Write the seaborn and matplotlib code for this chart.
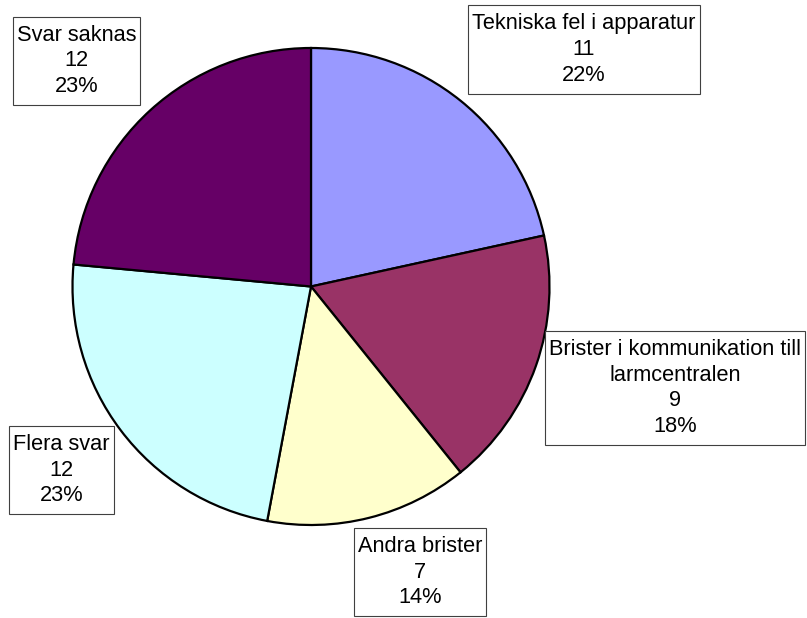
import matplotlib
matplotlib.use("Agg")
import matplotlib.pyplot as plt
from matplotlib.patches import Rectangle
import seaborn as sns

# data
categories = ["Tekniska fel i apparatur", "Brister i kommunikation till\nlarmcentralen",
              "Andra brister", "Flera svar", "Svar saknas"]
counts = [11, 9, 7, 12, 12]
percent_labels = ["22%", "18%", "14%", "23%", "23%"]
colors = ["#9999FF", "#993366", "#FFFFCC", "#CCFFFF", "#660066"]

# label box centres in pixel coordinates (y measured from top)
label_pos = [(584, 49.5), (675, 388), (420, 572), (61.5, 470), (76.5, 61)]

sns.set_style("white")
plt.rcParams["font.family"] = ["Liberation Sans", "DejaVu Sans"]

W, H = 807, 618
fig = plt.figure(figsize=(W / 100, H / 100), dpi=100)
ax = fig.add_axes([0, 0, 1, 1])

ax.pie(
    counts,
    colors=colors,
    startangle=90,
    counterclock=False,
    center=(311, H - 286.5),
    radius=238.5,
    wedgeprops={"edgecolor": "black", "linewidth": 1.6},
    frame=True,
)
ax.set_xlim(0, W)
ax.set_ylim(0, H)
ax.set_aspect("equal", adjustable="box")
ax.axis("off")

texts = []
for name, n, pct, (x, y) in zip(categories, counts, percent_labels, label_pos):
    t = ax.text(
        x, H - y, f"{name}\n{n}\n{pct}",
        ha="center", va="center", fontsize=15.7, linespacing=1.3,
        color="black", zorder=5, clip_on=False,
    )
    texts.append(t)

# framed boxes round the labels, a little more padding above/below than at the sides
fig.canvas.draw()
renderer = fig.canvas.get_renderer()
inv = ax.transData.inverted()
for t in texts:
    bb = t.get_window_extent(renderer)
    (x0, y0), (x1, y1) = inv.transform([(bb.x0, bb.y0), (bb.x1, bb.y1)])
    px, py = 4, 8
    ax.add_patch(Rectangle((x0 - px, y0 - py), (x1 - x0) + 2 * px, (y1 - y0) + 2 * py,
                           facecolor="white", edgecolor="#404040", linewidth=0.8,
                           zorder=4, clip_on=False))

fig.savefig("out.png", dpi=100)
